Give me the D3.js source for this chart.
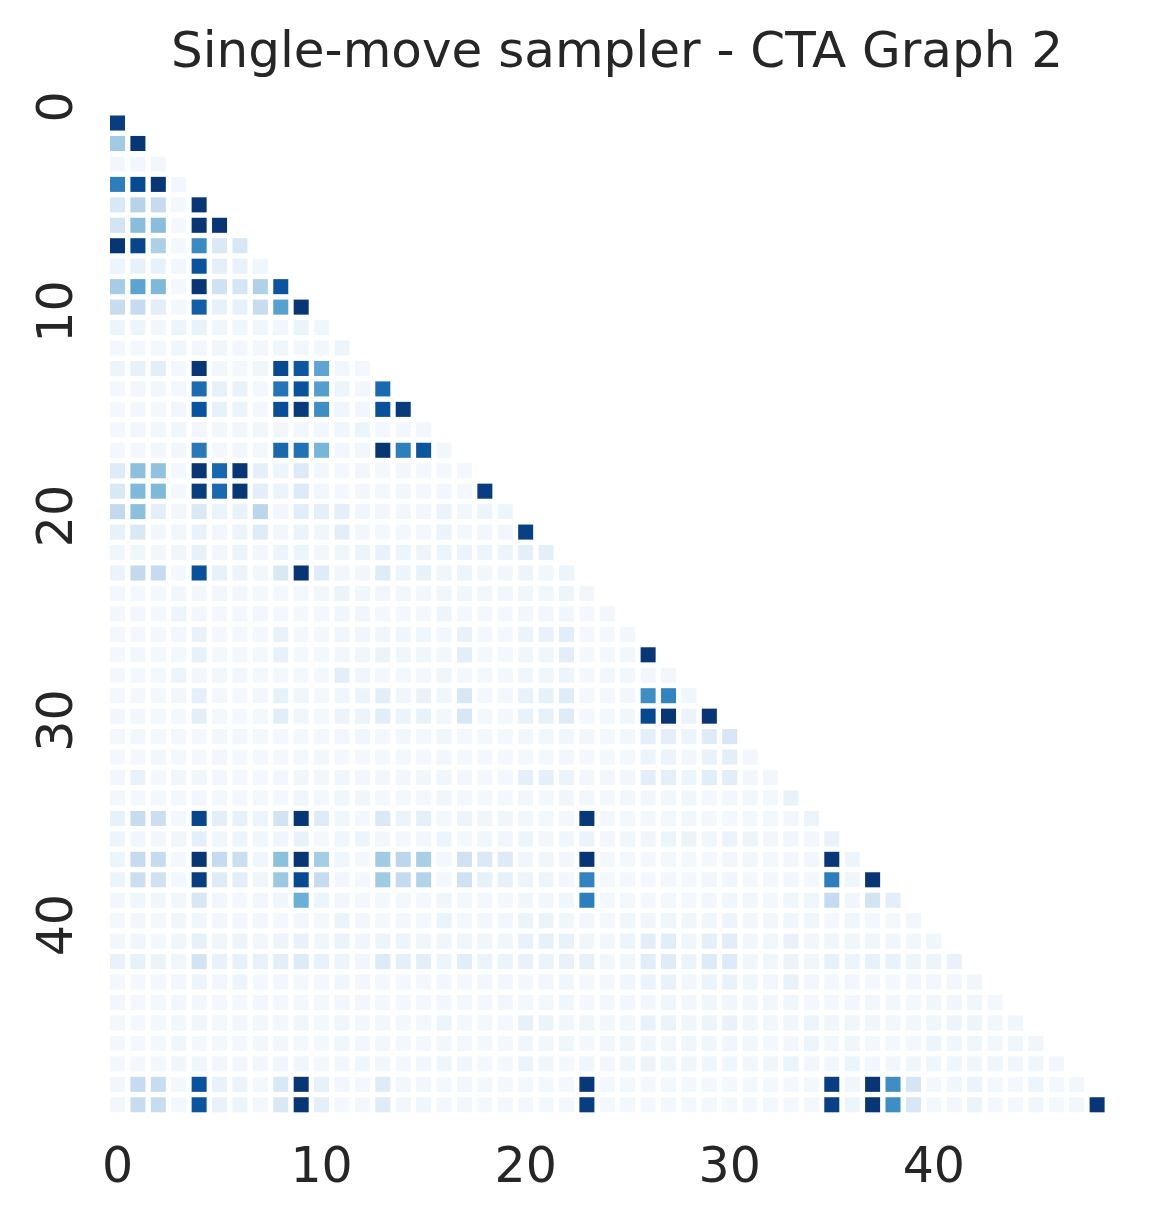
<!DOCTYPE html>
<html>
<head>
<meta charset="utf-8">
<script src="https://cdn.jsdelivr.net/npm/d3@7"></script>
<style>
  html, body { margin: 0; padding: 0; background: #ffffff; }
  svg { display: block; }
</style>
</head>
<body>
<svg id="chart" width="1158" height="1221"></svg>
<script>
// ---------------- DATA ----------------
const title = "Single-move sampler - CTA Graph 2";
const nNodes = 49;
const xTickLabels = [0, 10, 20, 30, 40];
const yTickLabels = [0, 10, 20, 30, 40];
// lower-triangular matrix, row i holds columns 0..i (values on a 0-100 scale)
const matrixRows = [
  [95],
  [37,98],
  [3,3,3],
  [70,90,98,3],
  [15,30,25,2,98],
  [18,43,43,2,98,98],
  [98,92,33,2,65,14,16],
  [5,8,8,3,87,9,7,4],
  [35,55,45,2,98,20,17,32,86],
  [24,25,10,2,82,8,8,24,56,98],
  [5,5,3,5,7,4,4,4,3,6,4],
  [2,2,2,4,3,4,3,3,4,3,3,5],
  [5,8,10,2,98,3,2,4,90,85,54,3, 2],
  [2,3,3,2,77,8,7,2,74,87,57,5, 3,78],
  [2,3,2,3,87,8,6,2,89,96,64,4, 3,88,96],
  [2,3,3,4,3,3,3,4,3,3,3,4, 5,2,3,3],
  [2,2,3,3,72,2,3,2,79,75,47,3, 3,98,70,86,3],
  [12,42,41,2,98,79,98,9,5,13,3,2, 3,2,3,2,2,2],
  [15,45,45,2,95,78,98,10,6,13,3,2, 3,2,3,2,3,2,95],
  [26,42,10,3,15,6,7,28,3,11,9,9, 4,3,3,3,6,3,5,5],
  [8,15,3,3,7,3,5,12,3,6,4,10, 3,2,2,2,6,2,3,3,94],
  [4,4,3,4,8,3,6,3,5,5,3,4, 5,7,5,5,5,6,5,5,9,9],
  [6,26,25,2,88,8,6,3,15,98,12,3, 3,12,5,7,4,5,3,3,5,3,5],
  [2,2,2,3,3,3,3,2,2,2,3,6, 4,3,3,3,4,4,3,3,4,3,5,3],
  [3,3,2,5,3,2,2,3,2,2,2,4, 4,2,2,2,5,2,2,2,3,3,4,2, 3],
  [2,2,2,3,7,2,2,2,7,2,2,4, 4,4,4,4,3,7,2,2,6,7,11,2, 2,3],
  [2,3,2,2,8,2,2,2,8,2,2,3, 4,6,4,4,3,10,2,2,4,4,10,2, 2,3,98],
  [2,2,2,5,3,3,3,2,2,2,2,10, 4,2,2,2,4,2,2,2,4,4,5,2, 3,3,3,3],
  [2,2,2,3,9,2,2,3,8,4,2,4, 6,10,4,7,4,16,2,2,7,8,12,2, 2,3,64,68,4],
  [3,3,2,2,10,2,2,2,11,4,2,6, 6,11,6,7,3,16,2,2,7,8,12,2, 2,4,91,98,6,98],
  [2,3,2,2,2,3,3,2,2,2,2,3, 4,2,3,2,4,2,2,2,3,3,4,3, 2,3,9,9,5,12,16],
  [2,2,3,2,2,3,2,2,2,2,3,2, 2,2,2,2,3,2,2,2,2,2,3,2, 2,2,5,6,3,7,10,3],
  [3,7,2,4,4,3,2,2,3,4,3,4, 3,3,3,4,4,3,2,2,9,9,6,3, 3,3,10,9,5,11,11,3,3],
  [2,2,2,2,3,2,2,2,2,4,2,4, 4,2,2,2,4,2,2,2,3,2,4,3, 2,3,3,3,4,2,3,3,2,7],
  [8,24,22,2,92,10,8,5,19,98,12,4, 2,14,6,9,2,5,4,4,3,2,2,97, 2,2,2,2,3,2,2,2,2,3,5],
  [5,4,3,4,9,4,5,4,4,7,2,4, 5,3,2,3,5,2,4,4,5,3,4,6, 3,4,4,5,6,4,6,5,3,4,3,7],
  [5,25,25,2,98,25,22,4,42,98,35,4, 2,37,28,34,2,20,14,13,4,4,3,98, 2,2,2,2,2,2,3,3,2,3,3,97, 5],
  [6,22,20,2,95,12,10,4,38,90,24,3, 2,37,25,31,2,20,8,8,5,5,3,68, 2,2,2,2,2,3,4,2,2,3,2,70, 4,98],
  [3,4,4,3,16,3,2,3,4,50,5,3, 2,2,2,2,4,2,2,2,4,3,4,70, 2,2,2,2,2,3,4,3,2,4,4,25, 4,18,10],
  [2,3,2,4,4,3,3,3,2,3,2,6, 3,2,2,2,6,2,3,3,6,6,4,3, 2,4,4,4,4,4,5,3,3,4,4,2, 4,2,2,3],
  [3,4,2,4,8,4,5,3,5,7,4,6, 4,5,5,4,4,4,4,4,7,8,7,4, 3,5,10,11,4,9,11,3,3,7,3,4, 4,4,4,3,4],
  [7,8,6,3,19,7,8,7,10,13,7,5, 4,13,9,10,5,11,6,6,7,6,7,8, 3,4,11,12,6,13,13,4,3,6,4,8, 5,8,7,5,5,7],
  [2,2,2,3,5,3,5,2,3,2,2,4, 3,2,2,2,3,2,3,3,2,3,4,2, 2,4,6,7,3,6,7,4,3,7,3,2, 3,2,2,3,3,3,4],
  [3,2,2,3,3,2,2,3,2,2,2,3, 3,2,2,2,3,2,2,3,2,2,4,2, 2,3,3,4,3,4,4,3,3,4,2,2, 3,3,3,2,4,4,4,2],
  [2,2,2,3,4,2,3,3,2,4,2,4, 3,3,2,2,5,2,2,2,8,6,4,4, 3,3,7,6,4,5,7,4,3,4,5,4, 4,4,3,3,4,5,5,3,4],
  [2,2,2,4,2,2,2,3,3,2,2,4, 3,3,2,2,3,2,2,2,4,3,4,2, 3,4,4,3,4,4,4,3,2,3,5,2, 4,2,2,2,5,4,4,3,4,4],
  [2,2,2,4,4,3,3,3,4,4,2,3, 4,3,2,3,4,4,2,2,6,4,2,4, 3,4,5,4,4,4,4,3,4,6,3,3, 5,3,3,4,4,4,4,4,4,4,3],
  [3,25,24,2,87,7,6,2,15,98,8,3, 2,12,3,3,2,3,2,2,2,2,2,97, 2,2,2,2,2,2,2,2,2,2,2,95, 4,98,64,17,2,4,6,2,2,5,2,3],
  [3,24,24,2,86,7,5,2,15,98,9,2, 2,12,3,4,2,3,2,2,2,2,2,95, 2,2,2,2,2,2,2,2,2,2,2,94, 5,98,64,16,2,3,6,2,2,4,2,3,98]
];
const bluesStops = ["#f7fbff","#deebf7","#c6dbef","#9ecae1","#6baed6","#4292c6","#2171b5","#08519c","#08306b"];

// ---------------- CHART ----------------
(function () {
  const svg = d3.select("#chart");
  const mLeft = 107.3, mRight = 1107.3, mTop = 112.8, mBottom = 1115;
  const textColor = "#262626";
  const font = "'DejaVu Sans', 'Liberation Sans', sans-serif";

  const x = d3.scaleBand().domain(d3.range(nNodes)).range([mLeft, mRight]).padding(0);
  const y = d3.scaleBand().domain(d3.range(nNodes)).range([mTop, mBottom]).padding(0);
  const color = d3.scaleLinear()
    .domain(bluesStops.map((_, i) => i * 100 / (bluesStops.length - 1)))
    .range(bluesStops)
    .interpolate(d3.interpolateRgb)
    .clamp(true);

  const cells = [];
  matrixRows.forEach((row, i) => row.forEach((v, j) => cells.push({ i, j, v })));

  const gap = 2.7;
  svg.append("g").selectAll("rect")
    .data(cells)
    .join("rect")
    .attr("x", d => x(d.j) + gap)
    .attr("y", d => y(d.i) + gap)
    .attr("width", x.bandwidth() - 2 * gap)
    .attr("height", y.bandwidth() - 2 * gap)
    .attr("fill", d => color(d.v));

  // x-axis tick labels
  const xAxis = d3.axisBottom(x).tickValues(xTickLabels).tickSize(0).tickPadding(0);
  const gx = svg.append("g").attr("transform", `translate(0,${mBottom})`).call(xAxis);
  gx.select(".domain").remove();
  gx.selectAll("text")
    .attr("y", 0).attr("dy", 0)
    .attr("transform", "translate(0,67)")
    .attr("fill", textColor)
    .style("font-family", font)
    .style("font-size", "49px");

  // y-axis tick labels (rotated)
  const yAxis = d3.axisLeft(y).tickValues(yTickLabels).tickSize(0).tickPadding(0);
  const gy = svg.append("g").call(yAxis);
  gy.select(".domain").remove();
  gy.selectAll(".tick").attr("transform", d => `translate(72,${y(d) + y.bandwidth() / 2 - 16})`);
  gy.selectAll("text")
    .attr("x", 0).attr("y", 0).attr("dy", 0)
    .attr("transform", "rotate(-90)")
    .attr("text-anchor", "middle")
    .attr("fill", textColor)
    .style("font-family", font)
    .style("font-size", "49px");

  // title
  svg.append("text")
    .attr("x", 617)
    .attr("y", 67)
    .attr("text-anchor", "middle")
    .attr("fill", textColor)
    .style("font-family", font)
    .style("font-size", "50px")
    .text(title);
})();
</script>
</body>
</html>
